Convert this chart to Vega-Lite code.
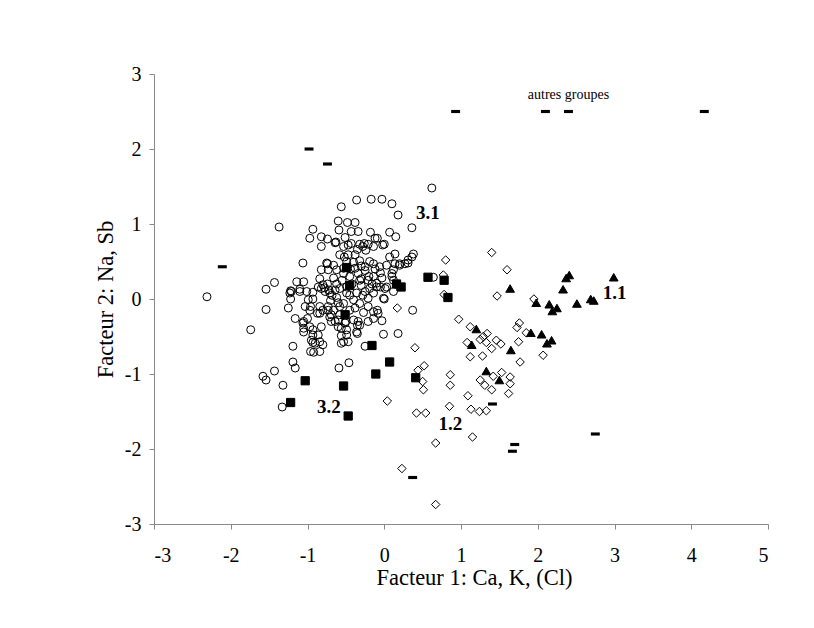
{
"$schema":"https://vega.github.io/schema/vega-lite/v6.json",
"autosize":{"type":"none"},
"padding":{"left":154,"top":74,"right":46,"bottom":104},
"width":614,"height":450,
"background":"white",
"config":{"view":{"stroke":null},
"axis":{"grid":false,"domainColor":"#888","tickColor":"#888","tickSize":5,"labelColor":"black","labelFont":"Liberation Serif","labelFontSize":20,"titleFont":"Liberation Serif","titleFontSize":22.5,"titleFontWeight":"normal","titleColor":"black"}},
"datasets":{
"pts":[
{"g":"c","x":0.62,"y":1.48},{"g":"c","x":-0.56,"y":1.23},{"g":"c","x":-0.36,"y":1.32},{"g":"c","x":-0.17,"y":1.33},{"g":"c","x":-0.03,"y":1.33},{"g":"c","x":0.10,"y":1.27},{"g":"c","x":0.18,"y":1.12},{"g":"c","x":0.36,"y":0.95},{"g":"c","x":-1.37,"y":0.96},{"g":"c","x":-0.93,"y":0.93},
{"g":"c","x":-0.97,"y":0.81},{"g":"c","x":-0.82,"y":0.83},{"g":"c","x":-0.82,"y":0.70},{"g":"c","x":-0.74,"y":0.80},{"g":"c","x":-0.60,"y":1.04},{"g":"c","x":-0.48,"y":1.02},{"g":"c","x":-0.38,"y":1.02},{"g":"c","x":-0.59,"y":0.92},{"g":"c","x":-0.43,"y":0.90},{"g":"c","x":-0.34,"y":0.90},
{"g":"c","x":-0.51,"y":0.82},{"g":"c","x":-0.63,"y":0.76},{"g":"c","x":-0.18,"y":0.89},{"g":"c","x":-0.12,"y":0.81},{"g":"c","x":-0.09,"y":0.81},{"g":"c","x":0.07,"y":0.89},{"g":"c","x":0.15,"y":0.83},{"g":"c","x":0.00,"y":0.73},{"g":"c","x":-0.32,"y":0.73},{"g":"c","x":-0.26,"y":0.74},
{"g":"c","x":-0.21,"y":0.73},{"g":"c","x":0.14,"y":0.60},{"g":"c","x":0.38,"y":0.60},{"g":"c","x":0.07,"y":0.56},{"g":"c","x":-2.31,"y":0.03},{"g":"c","x":-1.74,"y":-0.41},{"g":"c","x":-1.54,"y":0.13},{"g":"c","x":-1.54,"y":-0.14},{"g":"c","x":-1.43,"y":0.22},{"g":"c","x":-1.25,"y":-0.12},
{"g":"c","x":-1.22,"y":0.00},{"g":"c","x":-1.22,"y":0.11},{"g":"c","x":-1.14,"y":0.23},{"g":"c","x":-1.05,"y":0.23},{"g":"c","x":-1.06,"y":0.48},{"g":"c","x":-1.16,"y":-0.26},{"g":"c","x":-1.19,"y":-0.63},{"g":"c","x":-1.19,"y":-0.84},{"g":"c","x":-1.16,"y":-0.92},{"g":"c","x":-1.43,"y":-0.96},
{"g":"c","x":-1.58,"y":-1.03},{"g":"c","x":-1.54,"y":-1.08},{"g":"c","x":-1.32,"y":-1.15},{"g":"c","x":-1.33,"y":-1.44},{"g":"c","x":-1.06,"y":-0.32},{"g":"c","x":-1.05,"y":-0.39},{"g":"c","x":-1.00,"y":-0.26},{"g":"c","x":-0.99,"y":-0.01},{"g":"c","x":-0.96,"y":-0.10},{"g":"c","x":-1.10,"y":0.13},
{"g":"c","x":-0.93,"y":-0.48},{"g":"c","x":-0.93,"y":-0.58},{"g":"c","x":-0.96,"y":-0.70},{"g":"c","x":-0.92,"y":-0.71},{"g":"c","x":-0.84,"y":-0.70},{"g":"c","x":-0.80,"y":-0.61},{"g":"c","x":-0.93,"y":0.00},{"g":"c","x":-0.93,"y":0.09},{"g":"c","x":-0.82,"y":0.14},{"g":"c","x":-0.84,"y":0.27},
{"g":"c","x":-0.82,"y":0.39},{"g":"c","x":-0.75,"y":0.48},{"g":"c","x":-0.74,"y":0.47},{"g":"c","x":-0.66,"y":0.28},{"g":"c","x":-0.62,"y":0.39},{"g":"c","x":-0.58,"y":0.59},{"g":"c","x":-0.47,"y":0.59},{"g":"c","x":-0.38,"y":0.59},{"g":"c","x":-0.64,"y":0.75},{"g":"c","x":-0.78,"y":0.15},
{"g":"c","x":-0.72,"y":0.12},{"g":"c","x":-0.74,"y":0.20},{"g":"c","x":-0.84,"y":-0.10},{"g":"c","x":-0.84,"y":-0.19},{"g":"c","x":-0.73,"y":-0.15},{"g":"c","x":-0.69,"y":-0.21},{"g":"c","x":-0.69,"y":-0.30},{"g":"c","x":-0.58,"y":-0.21},{"g":"c","x":-0.60,"y":-0.28},{"g":"c","x":-0.56,"y":-0.39},
{"g":"c","x":-0.56,"y":-0.49},{"g":"c","x":-0.56,"y":-0.59},{"g":"c","x":-0.50,"y":-0.30},{"g":"c","x":-0.40,"y":-0.28},{"g":"c","x":-0.35,"y":-0.35},{"g":"c","x":-0.35,"y":-0.46},{"g":"c","x":-0.59,"y":-0.92},{"g":"c","x":-0.46,"y":-0.85},{"g":"c","x":-0.21,"y":-0.10},{"g":"c","x":-0.14,"y":-0.17},
{"g":"c","x":-0.09,"y":-0.15},{"g":"c","x":-0.03,"y":-0.29},{"g":"c","x":0.00,"y":0.00},{"g":"c","x":-0.01,"y":-0.47},{"g":"c","x":0.18,"y":-0.46},{"g":"c","x":0.37,"y":-0.15},{"g":"c","x":0.03,"y":0.16},{"g":"c","x":-0.10,"y":0.16},{"g":"c","x":-0.05,"y":0.16},{"g":"c","x":0.12,"y":0.25},
{"g":"c","x":0.10,"y":0.34},{"g":"c","x":0.14,"y":0.47},{"g":"c","x":0.20,"y":0.47},{"g":"c","x":0.27,"y":0.47},{"g":"c","x":0.31,"y":0.48},{"g":"c","x":-0.02,"y":0.72},{"g":"c","x":-0.35,"y":0.66},{"g":"c","x":-0.28,"y":0.70},{"g":"c","x":-0.24,"y":0.65},{"g":"c","x":-0.49,"y":0.50},
{"g":"c","x":-0.40,"y":0.49},{"g":"c","x":-0.32,"y":0.51},{"g":"c","x":-0.19,"y":0.50},{"g":"c","x":-0.53,"y":0.70},{"g":"c","x":-0.47,"y":0.72},{"g":"c","x":-0.20,"y":0.30},{"g":"c","x":-0.05,"y":0.35},{"g":"c","x":-0.25,"y":0.38},{"g":"c","x":-0.30,"y":0.27},{"g":"c","x":0.64,"y":0.29},
{"g":"c","x":0.01,"y":0.14},{"g":"c","x":0.12,"y":0.10},{"g":"c","x":-0.52,"y":0.56},{"g":"c","x":-0.43,"y":0.74},{"g":"c","x":-0.14,"y":0.70},{"g":"c","x":0.31,"y":0.52},{"g":"c","x":0.36,"y":0.56},{"g":"c","x":-0.73,"y":0.39},{"g":"c","x":-0.53,"y":0.41},{"g":"c","x":-1.10,"y":0.10},
{"g":"c","x":-1.21,"y":0.10},{"g":"c","x":-1.01,"y":0.10},{"g":"c","x":-0.86,"y":0.16},{"g":"c","x":-0.80,"y":0.19},{"g":"c","x":-0.77,"y":0.10},{"g":"c","x":-0.71,"y":0.08},{"g":"c","x":-0.64,"y":0.12},{"g":"c","x":-0.58,"y":0.14},{"g":"c","x":-0.49,"y":0.16},{"g":"c","x":-1.03,"y":-0.10},
{"g":"c","x":-0.97,"y":-0.15},{"g":"c","x":-0.87,"y":-0.19},{"g":"c","x":-0.80,"y":-0.15},{"g":"c","x":-0.73,"y":-0.10},{"g":"c","x":-0.66,"y":-0.15},{"g":"c","x":-0.58,"y":-0.10},{"g":"c","x":-1.23,"y":0.08},{"g":"c","x":-1.05,"y":-0.30},{"g":"c","x":-0.97,"y":-0.37},{"g":"c","x":-0.93,"y":-0.41},
{"g":"c","x":-1.05,"y":-0.44},{"g":"c","x":-0.82,"y":-0.37},{"g":"c","x":-0.86,"y":-0.48},{"g":"c","x":-0.84,"y":-0.57},{"g":"c","x":-0.90,"y":-0.59},{"g":"c","x":-0.95,"y":-0.55},{"g":"c","x":-0.71,"y":-0.24},{"g":"c","x":-0.64,"y":-0.30},{"g":"c","x":-0.60,"y":-0.37},{"g":"c","x":-0.51,"y":-0.32},
{"g":"c","x":-0.49,"y":-0.41},{"g":"c","x":-0.25,"y":0.43},{"g":"c","x":-0.14,"y":0.47},{"g":"c","x":-0.06,"y":0.43},{"g":"c","x":0.03,"y":0.45},{"g":"c","x":0.20,"y":0.45},{"g":"c","x":0.10,"y":0.30},{"g":"c","x":0.12,"y":0.39},{"g":"c","x":-0.21,"y":0.01},{"g":"c","x":-0.01,"y":0.01},
{"g":"c","x":-0.08,"y":-0.19},{"g":"c","x":-0.14,"y":-0.26},{"g":"c","x":-0.21,"y":-0.30},{"g":"c","x":-0.34,"y":-0.30},{"g":"c","x":-0.32,"y":-0.35},{"g":"c","x":-0.36,"y":-0.44},{"g":"c","x":-0.49,"y":-0.48},{"g":"c","x":-0.47,"y":-0.57},{"g":"c","x":-0.53,"y":-0.57},{"g":"c","x":-0.25,"y":-0.63},
{"g":"c","x":-0.53,"y":0.34},{"g":"c","x":-0.45,"y":0.30},{"g":"c","x":-0.34,"y":0.34},{"g":"c","x":-0.38,"y":0.41},{"g":"c","x":-0.32,"y":0.25},{"g":"c","x":-0.49,"y":0.08},{"g":"c","x":-0.36,"y":0.08},{"g":"c","x":-0.40,"y":-0.01},{"g":"c","x":-0.32,"y":-0.06},{"g":"c","x":-0.53,"y":-0.06},
{"g":"c","x":-0.21,"y":0.25},{"g":"c","x":-0.14,"y":0.30},{"g":"c","x":-0.10,"y":0.21},{"g":"c","x":-0.03,"y":0.28},{"g":"c","x":-0.25,"y":0.10},{"g":"c","x":-0.19,"y":0.14},{"g":"c","x":-0.14,"y":0.08},{"g":"c","x":-0.68,"y":0.05},{"g":"c","x":-0.62,"y":0.02},{"g":"c","x":-0.70,"y":-0.02},
{"g":"c","x":-0.45,"y":0.05},{"g":"c","x":-0.42,"y":0.20},{"g":"c","x":-0.28,"y":0.05},{"g":"c","x":-0.30,"y":0.18},{"g":"c","x":-0.12,"y":0.40},{"g":"c","x":-0.62,"y":0.20},{"g":"c","x":-0.66,"y":0.45},{"g":"c","x":-0.44,"y":0.40},{"g":"c","x":-0.30,"y":0.44},{"g":"c","x":-0.16,"y":0.20},
{"g":"c","x":-0.60,"y":-0.05},{"g":"c","x":-0.55,"y":0.25},{"g":"c","x":-0.45,"y":-0.15},{"g":"c","x":-0.38,"y":-0.12},{"g":"c","x":-0.27,"y":-0.18},
{"g":"s","x":-0.49,"y":0.42},{"g":"s","x":-0.45,"y":0.18},{"g":"s","x":-0.51,"y":-0.21},{"g":"s","x":0.16,"y":0.20},{"g":"s","x":0.22,"y":0.16},{"g":"s","x":0.57,"y":0.29},{"g":"s","x":0.78,"y":0.25},{"g":"s","x":0.83,"y":0.02},{"g":"s","x":-0.16,"y":-0.62},{"g":"s","x":0.07,"y":-0.84},
{"g":"s","x":-0.11,"y":-1.00},{"g":"s","x":0.41,"y":-1.05},{"g":"s","x":-1.03,"y":-1.09},{"g":"s","x":-0.53,"y":-1.16},{"g":"s","x":-1.22,"y":-1.38},{"g":"s","x":-0.47,"y":-1.56},
{"g":"d","x":0.17,"y":-0.12},{"g":"d","x":0.40,"y":-0.65},{"g":"d","x":0.52,"y":-0.89},{"g":"d","x":0.50,"y":-1.10},{"g":"d","x":0.51,"y":-1.21},{"g":"d","x":0.44,"y":-0.95},{"g":"d","x":0.04,"y":-1.36},{"g":"d","x":0.42,"y":-1.52},{"g":"d","x":0.54,"y":-1.52},{"g":"d","x":0.67,"y":-1.92},
{"g":"d","x":0.23,"y":-2.26},{"g":"d","x":0.67,"y":-2.74},{"g":"d","x":1.40,"y":0.62},{"g":"d","x":1.60,"y":0.39},{"g":"d","x":0.80,"y":0.52},{"g":"d","x":0.77,"y":0.32},{"g":"d","x":0.78,"y":0.06},{"g":"d","x":1.47,"y":0.04},{"g":"d","x":1.95,"y":0.00},{"g":"d","x":0.97,"y":-0.27},
{"g":"d","x":1.12,"y":-0.37},{"g":"d","x":1.08,"y":-0.58},{"g":"d","x":1.25,"y":-0.54},{"g":"d","x":1.29,"y":-0.50},{"g":"d","x":1.34,"y":-0.46},{"g":"d","x":1.33,"y":-0.58},{"g":"d","x":1.46,"y":-0.55},{"g":"d","x":1.52,"y":-0.60},{"g":"d","x":1.40,"y":-0.66},{"g":"d","x":1.12,"y":-0.77},
{"g":"d","x":1.28,"y":-0.76},{"g":"d","x":1.76,"y":-0.32},{"g":"d","x":1.73,"y":-0.38},{"g":"d","x":1.85,"y":-0.45},{"g":"d","x":1.75,"y":-0.57},{"g":"d","x":1.77,"y":-0.84},{"g":"d","x":2.07,"y":-0.75},{"g":"d","x":0.86,"y":-1.01},{"g":"d","x":0.86,"y":-1.15},{"g":"d","x":1.25,"y":-1.08},
{"g":"d","x":1.31,"y":-1.15},{"g":"d","x":1.42,"y":-1.03},{"g":"d","x":1.53,"y":-0.98},{"g":"d","x":1.64,"y":-1.04},{"g":"d","x":1.64,"y":-1.13},{"g":"d","x":1.62,"y":-1.26},{"g":"d","x":1.40,"y":-1.21},{"g":"d","x":1.09,"y":-1.29},{"g":"d","x":0.85,"y":-1.43},{"g":"d","x":1.13,"y":-1.47},
{"g":"d","x":1.24,"y":-1.50},{"g":"d","x":1.33,"y":-1.49},{"g":"d","x":1.15,"y":-1.84},
{"g":"t","x":1.64,"y":0.14},{"g":"t","x":2.41,"y":0.32},{"g":"t","x":2.37,"y":0.28},{"g":"t","x":2.33,"y":0.13},{"g":"t","x":2.99,"y":0.29},{"g":"t","x":2.69,"y":0.00},{"g":"t","x":2.73,"y":-0.02},{"g":"t","x":2.51,"y":-0.06},{"g":"t","x":1.98,"y":-0.05},{"g":"t","x":2.15,"y":-0.07},
{"g":"t","x":2.25,"y":-0.12},{"g":"t","x":2.19,"y":-0.16},{"g":"t","x":1.20,"y":-0.40},{"g":"t","x":1.14,"y":-0.61},{"g":"t","x":1.91,"y":-0.45},{"g":"t","x":2.05,"y":-0.47},{"g":"t","x":2.18,"y":-0.55},{"g":"t","x":2.12,"y":-0.59},{"g":"t","x":1.65,"y":-0.68},{"g":"t","x":1.33,"y":-0.96},
{"g":"t","x":1.50,"y":-1.08},
{"g":"o","x":-0.98,"y":2.00},{"g":"o","x":-0.74,"y":1.80},{"g":"o","x":-2.11,"y":0.43},{"g":"o","x":0.37,"y":-2.38},{"g":"o","x":1.41,"y":-1.40},{"g":"o","x":1.70,"y":-1.94},{"g":"o","x":1.67,"y":-2.03},{"g":"o","x":2.75,"y":-1.80},{"g":"o","x":0.93,"y":2.50},{"g":"o","x":2.10,"y":2.50},
{"g":"o","x":2.40,"y":2.50},{"g":"o","x":4.17,"y":2.50}
],
"groups":[{"t":"3.1","x":0.57,"y":1.15},{"t":"1.1","x":3.0,"y":0.08},{"t":"3.2","x":-0.72,"y":-1.44},{"t":"1.2","x":0.86,"y":-1.66}],
"note":[{"t":"autres groupes","x":2.40,"y":2.72}]
},
"layer":[
{"data":{"name":"pts"},
"mark":{"type":"point","filled":false,"strokeWidth":1,"opacity":1},
"encoding":{
"x":{"field":"x","type":"quantitative","scale":{"domain":[-3,5],"nice":false,"zero":false},"axis":{"title":"Facteur 1: Ca, K, (Cl)","values":[-3,-2,-1,0,1,2,3,4,5],"labelExpr":"'' + datum.value","labelPadding":16,"titlePadding":1,"titleX":320}},
"y":{"field":"y","type":"quantitative","scale":{"domain":[-3,3],"nice":false,"zero":false},"axis":{"title":"Facteur 2: Na, Sb","values":[-3,-2,-1,0,1,2,3],"labelExpr":"'' + datum.value","labelPadding":8,"titlePadding":7}},
"shape":{"field":"g","type":"nominal","legend":null,"scale":{"domain":["c","s","d","t","o"],"range":["circle","square","diamond","triangle-up","M-1,-0.35H1V0.35H-1Z"]}},
"fill":{"field":"g","type":"nominal","legend":null,"scale":{"domain":["c","s","d","t","o"],"range":["transparent","black","transparent","black","black"]}},
"stroke":{"field":"g","type":"nominal","legend":null,"scale":{"domain":["c","s","d","t","o"],"range":["black","black","black","black","transparent"]}},
"size":{"field":"g","type":"nominal","legend":null,"scale":{"domain":["c","s","d","t","o"],"range":[64,80,72,90,64]}}
}},
{"data":{"name":"groups"},
"mark":{"type":"text","font":"Liberation Serif","fontWeight":"bold","fontSize":19,"align":"center","baseline":"middle","color":"black"},
"encoding":{"x":{"field":"x","type":"quantitative"},"y":{"field":"y","type":"quantitative"},"text":{"field":"t"}}},
{"data":{"name":"note"},
"mark":{"type":"text","font":"Liberation Serif","fontSize":14,"align":"center","baseline":"middle","color":"black"},
"encoding":{"x":{"field":"x","type":"quantitative"},"y":{"field":"y","type":"quantitative"},"text":{"field":"t"}}}
]
}
